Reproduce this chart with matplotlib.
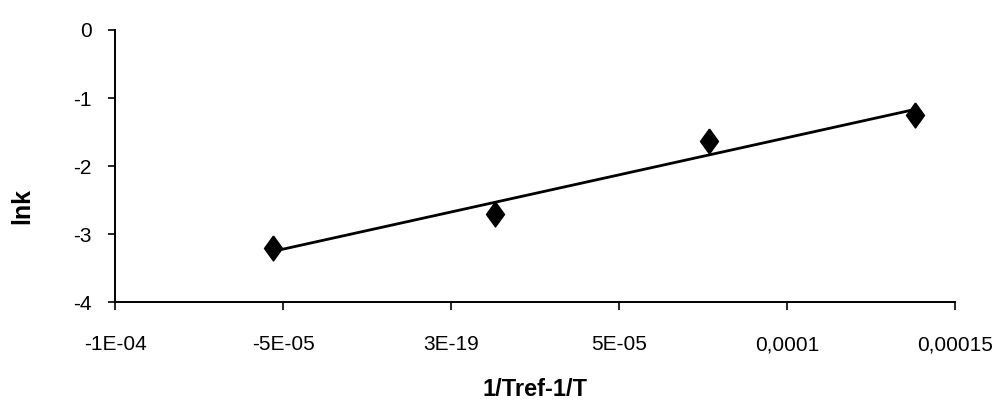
import numpy as np
import matplotlib
matplotlib.use("Agg")
import matplotlib.pyplot as plt

plt.rcParams['font.family'] = ['Liberation Sans Narrow', 'Liberation Sans', 'DejaVu Sans']

# Arrhenius-type data: ln k against 1/Tref - 1/T
inv_temp_diff = [-5.29e-05, 1.31e-05, 7.66e-05, 1.381e-04]
ln_k = [-3.21, -2.70, -1.63, -1.25]

x_ticks = [-1e-04, -5e-05, 0.0, 5e-05, 1e-04, 1.5e-04]
x_tick_labels = ["-1E-04", "-5E-05", "3E-19", "5E-05", "0,0001", "0,00015"]
y_ticks = [-4, -3, -2, -1, 0]
y_tick_labels = ["-4", "-3", "-2", "-1", "0"]

fig = plt.figure(figsize=(9.96, 4.05), dpi=100)
ax = fig.add_axes([0.1155, 0.254, 0.8435, 0.672])

# linear trend line over the data range
slope, intercept = np.polyfit(inv_temp_diff, ln_k, 1)
xs = np.array([min(inv_temp_diff), max(inv_temp_diff)])
ax.plot(xs, slope * xs + intercept, color='black', lw=2.0, zorder=2)

diamond = [(0, 0.5), (0.36, 0), (0, -0.5), (-0.36, 0), (0, 0.5)]
ax.plot(inv_temp_diff, ln_k, linestyle='none', marker=diamond,
        markersize=18, color='black', zorder=3)

ax.set_xlim(x_ticks[0], x_ticks[-1])
ax.set_ylim(-4, 0)
ax.set_xticks(x_ticks)
ax.set_xticklabels(x_tick_labels)
ax.set_yticks(y_ticks)
ax.set_yticklabels(y_tick_labels)

for side in ('top', 'right'):
    ax.spines[side].set_visible(False)
for side in ('left', 'bottom'):
    ax.spines[side].set_linewidth(1.4)
    ax.spines[side].set_color('black')

ax.tick_params(axis='x', direction='out', length=6, width=1.2,
               pad=18, labelsize=15, colors='black')
ax.tick_params(axis='y', direction='out', length=5, width=1.2,
               pad=12, labelsize=15, colors='black')

ax.set_xlabel("1/Tref-1/T", fontsize=17, fontweight='bold',
              family=['Liberation Sans', 'DejaVu Sans'], va='top')
ax.xaxis.set_label_coords(0.5, -0.28)
ax.set_ylabel("lnk", fontsize=18, fontweight='bold',
              family=['Liberation Sans', 'DejaVu Sans'])
ax.yaxis.set_label_coords(-0.096, 0.355)

fig.savefig("out.png", dpi=100, facecolor='white')
